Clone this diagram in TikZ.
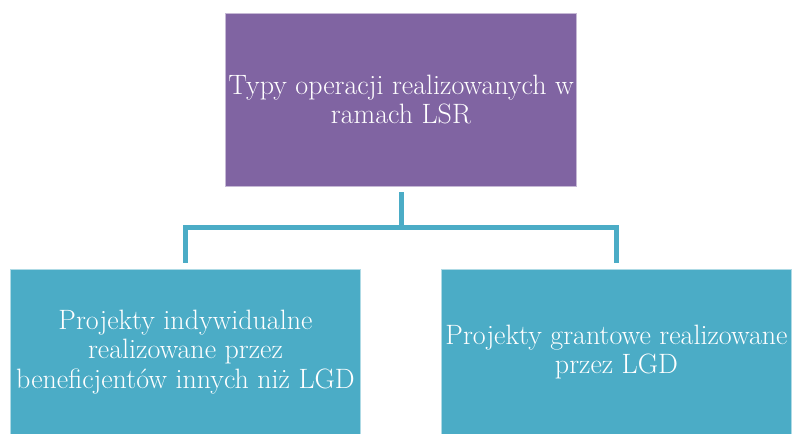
\documentclass[tikz,border=0pt]{standalone}
\usepackage{xcolor}
\definecolor{lsrpurple}{HTML}{8064A2}
\definecolor{lsrteal}{HTML}{4BACC6}
\usepackage{tikz}
\usetikzlibrary{positioning,calc}

\tikzset{
  typebox/.style={rectangle, draw=white!55!#1, line width=0.6pt, fill=#1,
    text=white, align=center, inner sep=0pt,
    minimum width=263pt, font=\fontsize{21}{22}\selectfont},
  conn/.style={draw=lsrteal, line width=3.75pt}
}

\begin{document}
\begin{tikzpicture}[x=0.75pt, y=-0.75pt]
    \useasboundingbox (0,0) rectangle (792,434);
    % Boxes
    \node[typebox=lsrpurple, minimum height=129.75pt] (typy) at (401,99.5)
      {Typy operacji realizowanych w\\ramach LSR};
    \node[typebox=lsrteal, minimum height=124.5pt] (indyw) at (185.5,352)
      {Projekty indywidualne\\realizowane przez\\beneficjentów innych niż LGD};
    \node[typebox=lsrteal, minimum height=124.5pt] (grant) at (616.5,352)
      {Projekty grantowe realizowane\\przez LGD};
    % Connectors
    \coordinate (fork) at ($(typy.south)+(0,41)$);
    \draw[conn, shorten <=4.5pt] (typy.south) -- (fork);
    \draw[conn, shorten >=4.5pt] (fork) -| (indyw.north);
    \draw[conn, shorten >=4.5pt] (fork) -| (grant.north);
  \end{tikzpicture}
\end{document}
